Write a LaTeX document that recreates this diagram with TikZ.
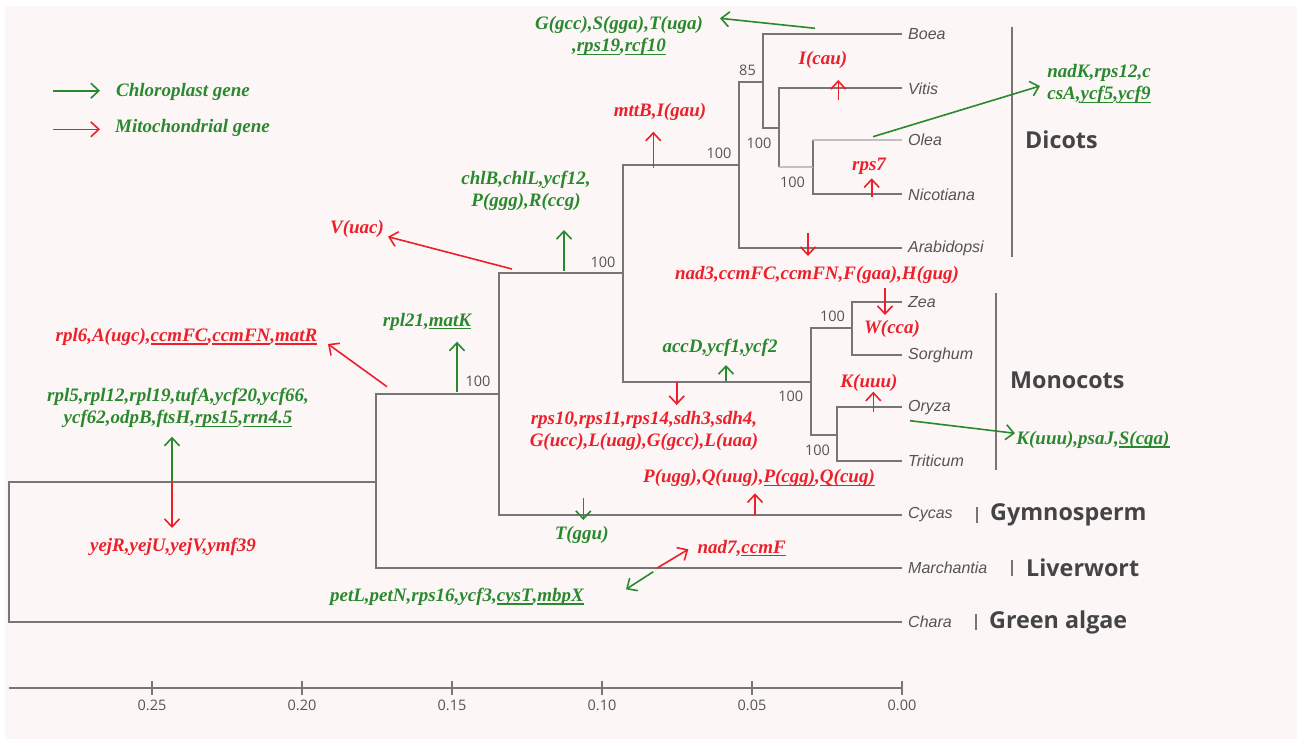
\documentclass[tikz,border=0pt]{standalone}
\usepackage{fontspec}
\setmainfont{Liberation Serif}
\setsansfont{Open Sans}
\newfontfamily\taxonfont{Liberation Sans}
\usetikzlibrary{arrows.meta}

\definecolor{bgpink}{RGB}{252,247,246}
\definecolor{treegray}{RGB}{118,118,118}
\definecolor{palegray}{RGB}{192,192,192}
\definecolor{cpgreen}{RGB}{42,136,46}
\definecolor{mtred}{RGB}{236,32,42}
\definecolor{labelgray}{RGB}{84,84,84}
\definecolor{cladegray}{RGB}{68,68,68}

\newcommand{\genefont}{\fontsize{19}{22.5}\selectfont\bfseries\itshape}
\newsavebox\gulbox
\newcommand{\gul}[1]{\sbox\gulbox{#1}\rlap{\rule[-0.16em]{\wd\gulbox}{0.07em}}\usebox\gulbox}

\begin{document}
\begin{tikzpicture}[x=1pt,y=-1pt,
	branch/.style={draw=treegray,line width=2pt},
	cpgene/.style={text=cpgreen,font=\genefont,align=center,inner sep=0pt},
	mtgene/.style={text=mtred,font=\genefont,align=center,inner sep=0pt},
	cparrow/.style={draw=cpgreen,line width=1.6pt,-{Straight Barb[length=8pt,width=15pt]}},
	mtarrow/.style={draw=mtred,line width=1.6pt,-{Straight Barb[length=8pt,width=15pt]}},
	taxon/.style={text=labelgray,font=\taxonfont\itshape\fontsize{16}{18}\selectfont,anchor=west,inner sep=0pt,xshift=6pt},
	boot/.style={text=labelgray,font=\sffamily\fontsize{14.5}{16}\selectfont,inner sep=0pt},
	clade/.style={text=cladegray,font=\sffamily\bfseries\fontsize{23.3}{26}\selectfont,anchor=west,inner sep=0pt}]

	\fill[white] (0,0) rectangle (1297,739);
	\fill[bgpink] (5,6) rectangle (1297,739);
	\useasboundingbox (0,0) rectangle (1297,739);

	% internal nodes of the tree
	\coordinate (root) at (9,551.7);
	\coordinate (n1) at (376,481.7);
	\coordinate (n2) at (499,394);
	\coordinate (n3) at (622.7,273.3);
	\coordinate (n4) at (739.3,165);
	\coordinate (n5) at (763.3,81.7);
	\coordinate (n6) at (779.3,127.7);
	\coordinate (n7) at (812.7,166.7);
	\coordinate (n8) at (811,381.7);
	\coordinate (n9) at (851.7,328.3);
	\coordinate (n10) at (836.7,434.5);

	% leaves
	\foreach \name/\y/\txt in {boea/34.3/Boea,vitis/88.3/Vitis,olea/140/Olea,nico/194.3/Nicotiana,
		arab/248.3/Arabidopsi,zea/301.7/Zea,sorg/355/Sorghum,oryza/407.3/Oryza,trit/460.7/Triticum,
		cycas/515/Cycas,march/567.7/Marchantia,chara/621.7/Chara}
	{
		\coordinate (\name) at (902,\y);
		\node[taxon] (\name txt) at (\name) {\txt};
	}

	% branches
	\foreach \p/\c in {root/n1,root/chara,n1/n2,n1/march,n2/n3,n2/cycas,n3/n4,n3/n8,n4/n5,n4/arab,
		n5/boea,n5/n6,n6/vitis,n7/nico,n8/n9,n8/n10,n9/zea,n9/sorg,n10/oryza,n10/trit}
		\draw[branch] (\p) |- (\c);
	\draw[branch] (n6) -- (n6 |- n7);
	\draw[branch,draw=palegray] (n6 |- n7) -- (n7);
	\draw[branch] (n7) -- (n7 |- olea);
	\draw[branch,draw=palegray] (n7 |- olea) -- (olea);

	% bootstrap values
	\foreach \name/\x/\y/\v in {b5/747.5/70/85,b6/759/143/100,b4/719/153/100,b7/792.5/182.7/100,
		b3/603/262/100,b9/832.5/316.7/100,b2/478/381.7/100,b8/790.8/396.7/100,b10/817.5/450/100}
		\node[boot] (\name) at (\x,\y) {\v};

	% clades
	\draw[branch] (1011.7,26.7) -- (1011.7,256.7);
	\draw[branch] (996,293.3) -- (996,470);
	\draw[branch] (976.7,507) -- (976.7,523);
	\draw[branch] (1012.4,560) -- (1012.4,576);
	\draw[branch] (975.6,614) -- (975.6,630);
	\node[clade] (dicots) at (1025,140) {Dicots};
	\node[clade] (monocots) at (1010,380) {Monocots};
	\node[clade] (gymno) at (990,515) {Gymnosperm};
	\node[clade] (liver) at (1026,568) {Liverwort};
	\node[clade] (algae) at (989,622) {Green algae};

	% scale axis
	\coordinate (ax0) at (9,688);
	\coordinate (ax1) at (902,688);
	\draw[branch] (ax0) -- (ax1);
	\foreach \v [count=\i] in {0.25,0.20,0.15,0.10,0.05,0.00}
	{
		\draw[branch] ({902-3000*\v},681) -- ({902-3000*\v},695);
		\node[boot] (tick\i) at ({902-3000*\v},705) {\v};
	}

	% legend
	\node[cpgene,anchor=west] (cpleg) at (116,92) {Chloroplast gene};
	\node[cpgene,anchor=west] (mtleg) at (115,128.3) {Mitochondrial gene};

	% chloroplast genes
	\node[cpgene] (tgcc) at (619,36) {G(gcc),S(gga),T(uga)\\,\gul{rps19},\gul{rcf10}};
	\node[cpgene] (nadk) at (1099,84) {nadK,rps12,c\\csA,\gul{ycf5},\gul{ycf9}};
	\node[cpgene] (chlb) at (526,191) {chlB,chlL,ycf12,\\P(ggg),R(ccg)};
	\node[cpgene] (rpl21) at (427,321.7) {rpl21,\gul{matK}};
	\node[cpgene] (accd) at (720,348.3) {accD,ycf1,ycf2};
	\node[cpgene] (psaj) at (1093,440) {K(uuu),psaJ,\gul{S(cga)}};
	\node[cpgene] (tggu) at (581.7,535) {T(ggu)};
	\node[cpgene] (petl) at (457,597) {petL,petN,rps16,ycf3,\gul{cysT},\gul{mbpX}};
	\node[cpgene] (rpl5) at (178,408) {rpl5,rpl12,rpl19,tufA,ycf20,ycf66,\\ycf62,odpB,ftsH,\gul{rps15},\gul{rrn4.5}};
	\foreach \name/\ax/\ay/\bx/\by in {cpleg/53/90.7/100/90.7,tgcc/815/28.3/720/18.3,nadk/873/136.7/1040/86,
		chlb/564/271/564/230,rpl21/457/392/457/341.7,accd/726/381/726/365,psaj/910/420.7/1015/433.3,
		tggu/583.3/498.3/583.3/520,petl/653.3/571.7/626/589.3,rpl5/172/481.7/172/436.7}
	{
		\coordinate (\name a) at (\ax,\ay);
		\coordinate (\name b) at (\bx,\by);
		\draw[cparrow] (\name a) -- (\name b);
	}

	% mitochondrial genes
	\node[mtgene] (icau) at (823,60) {I(cau)};
	\node[mtgene] (mttb) at (660,111.7) {mttB,I(gau)};
	\node[mtgene] (rps7) at (869,166.7) {rps7};
	\node[mtgene] (vuac) at (357,229) {V(uac)};
	\node[mtgene] (nad3) at (817,275) {nad3,ccmFC,ccmFN,F(gaa),H(gug)};
	\node[mtgene] (wcca) at (892,329) {W(cca)};
	\node[mtgene] (rpl6) at (186.5,337) {rpl6,A(ugc),\gul{ccmFC},\gul{ccmFN},\gul{matR}};
	\node[mtgene] (rps10) at (644,431) {rps10,rps11,rps14,sdh3,sdh4,\\G(ucc),L(uag),G(gcc),L(uaa)};
	\node[mtgene] (kuuu) at (869,383.3) {K(uuu)};
	\node[mtgene] (pugg) at (759,478.3) {P(ugg),Q(uug),\gul{P(cgg)},\gul{Q(cug)}};
	\node[mtgene] (nad7) at (741.7,548.3) {nad7,\gul{ccmF}};
	\node[mtgene] (yejr) at (173,546.7) {yejR,yejU,yejV,ymf39};
	\foreach \name/\ax/\ay/\bx/\by in {mtleg/53/129.3/100/129.3,icau/838.3/100/838.3/80,mttb/653.3/168/653.3/131.7,
		rps7/871.7/196.7/871.7/178.3,vuac/512/269/388/236.7,nad3/808/233/808/256,wcca/885/288/885/315,
		rpl6/387/386.7/328/344,rps10/676.7/381.7/676.7/405,kuuu/873.3/411.7/873.3/391.7,
		pugg/755/515/755/493.3,nad7/656.7/568.3/688.3/549.3,yejr/172/481.7/172/528}
	{
		\coordinate (\name a) at (\ax,\ay);
		\coordinate (\name b) at (\bx,\by);
		\draw[mtarrow] (\name a) -- (\name b);
	}
\end{tikzpicture}
\end{document}
